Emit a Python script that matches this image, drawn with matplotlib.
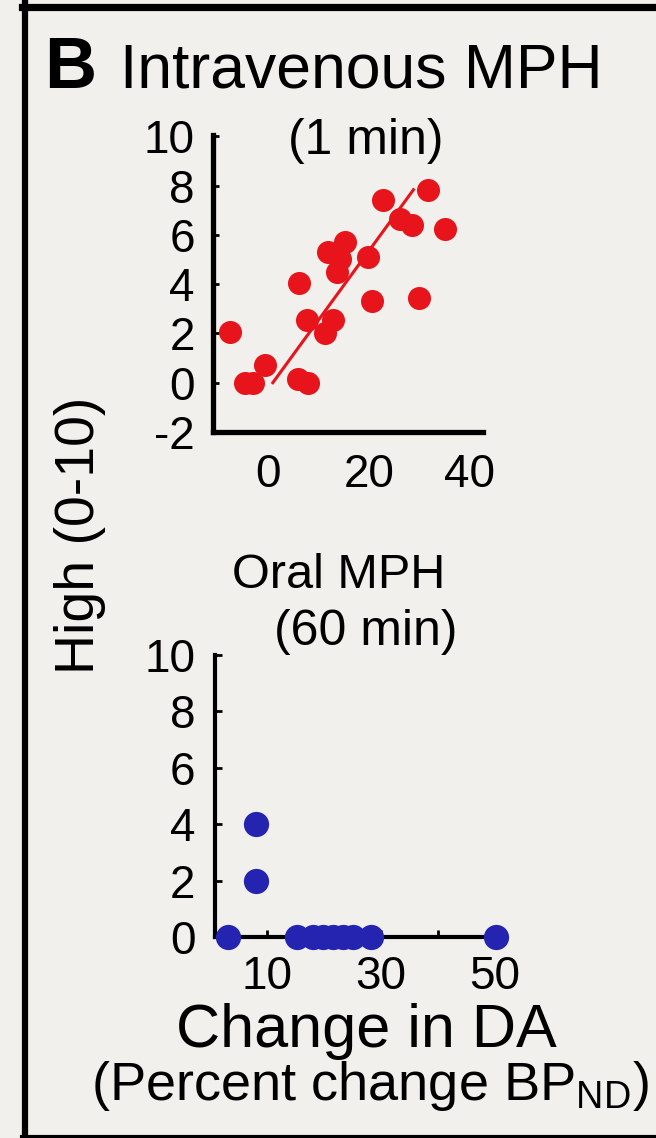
import matplotlib
matplotlib.use("Agg")
import matplotlib.pyplot as plt
from matplotlib.lines import Line2D

plt.rcParams['font.family'] = ['Liberation Sans', 'DejaVu Sans']
plt.rcParams['mathtext.default'] = 'regular'
plt.rcParams['axes.unicode_minus'] = False

# ---- data ----
iv_x = [-7.5, -4.6, -3.0, -0.65, 5.8, 7.8, 6.0, 7.6, 11.25, 12.9, 11.9, 15.2,
        13.6, 14.2, 19.8, 20.5, 22.7, 26.1, 28.6, 31.6, 35.1, 30.0]
iv_y = [2.07, 0.0, 0.0, 0.73, 0.15, 0.0, 4.03, 2.55, 2.0, 2.55, 5.3, 5.7,
        4.5, 5.0, 5.1, 3.3, 7.4, 6.65, 6.4, 7.83, 6.22, 3.42]
fit_x = [0.9, 28.8]
fit_y = [0.0, 7.83]

oral_x = [3.2, 8.1, 8.1, 15.2, 18.1, 19.9, 21.6, 23.4, 25.1, 28.3, 50.2]
oral_y = [0, 4, 2, 0, 0, 0, 0, 0, 0, 0, 0]

iv_yticks = [-2, 0, 2, 4, 6, 8, 10]
iv_xticks = [0, 20, 40]
oral_yticks = [0, 2, 4, 6, 8, 10]
oral_xticks = [10, 20, 30, 40, 50]
oral_xticklabels = ['10', '', '30', '', '50']

BG = '#f1f0ec'
RED = '#e8141b'
BLUE = '#2424b0'

W, H = 656, 1138
fig = plt.figure(figsize=(W / 100, H / 100), dpi=100, facecolor=BG)

def fx(px):
    return px / W

def fy(py):
    return 1 - py / H

# ---- top axes ----
ax1 = fig.add_axes([fx(213), fy(432), fx(483) - fx(213), fy(135) - fy(432)])
ax1.set_facecolor('none')
ax1.scatter(iv_x, iv_y, s=275, color=RED, zorder=3, clip_on=False, linewidths=0)
ax1.plot(fit_x, fit_y, color=RED, lw=2.2, zorder=4)
ax1.set_xlim(-10.97, 42.6)
ax1.set_ylim(-2, 10.05)
ax1.set_yticks(iv_yticks)
ax1.set_xticks(iv_xticks)
for s in ['top', 'right']:
    ax1.spines[s].set_visible(False)
for s in ['left', 'bottom']:
    ax1.spines[s].set_linewidth(3.8)
    ax1.spines[s].set_capstyle('projecting')
ax1.tick_params(axis='y', direction='in', length=4, width=2, labelsize=33, pad=13)
ax1.tick_params(axis='x', length=0, labelsize=33, pad=15)

# ---- bottom axes ----
ax2 = fig.add_axes([fx(215), fy(937), fx(500) - fx(215), fy(655) - fy(937)])
ax2.set_facecolor('none')
ax2.scatter(oral_x, oral_y, s=330, color=BLUE, zorder=5, clip_on=False, linewidths=0)
ax2.set_xlim(0.88, 50.9)
ax2.set_ylim(0, 10)
ax2.set_yticks(oral_yticks)
ax2.set_xticks(oral_xticks)
ax2.set_xticklabels(oral_xticklabels)
for s in ['top', 'right']:
    ax2.spines[s].set_visible(False)
for s in ['left', 'bottom']:
    ax2.spines[s].set_linewidth(3.0)
ax2.tick_params(axis='y', direction='in', length=5, width=2, labelsize=33, pad=14)
ax2.tick_params(axis='x', direction='in', length=5, width=2, labelsize=33, pad=13)

# ---- texts ----
fig.text(fx(44), fy(88), 'B', fontsize=52, fontweight='bold', va='baseline', ha='left')
fig.text(fx(120), fy(88), 'Intravenous MPH', fontsize=45, va='baseline', ha='left')
fig.text(fx(366), fy(141), '(1 min)', fontsize=36, va='center', ha='center')
fig.text(fx(339), fy(575), 'Oral MPH', fontsize=35, va='center', ha='center')
fig.text(fx(366), fy(632), '(60 min)', fontsize=36, va='center', ha='center')
fig.text(fx(80), fy(535), 'High (0-10)', fontsize=40, rotation=90, va='center', ha='center')
fig.text(fx(366), fy(1031), 'Change in DA', fontsize=44, va='center', ha='center')
fig.text(fx(370), fy(1086), r'(Percent change BP$_{\mathregular{ND}}$)', fontsize=39,
         va='center', ha='center')

# ---- frame ----
fig.add_artist(Line2D([fx(22), 1], [fy(6.5), fy(6.5)], color='black', lw=5.2,
                      transform=fig.transFigure))
fig.add_artist(Line2D([fx(25), fx(25)], [fy(3), 0], color='black', lw=4.5,
                      transform=fig.transFigure))
fig.add_artist(Line2D([fx(22), 1], [fy(1136.5), fy(1136.5)], color='black', lw=3,
                      transform=fig.transFigure))

fig.savefig('out.png', dpi=100, facecolor=BG)
